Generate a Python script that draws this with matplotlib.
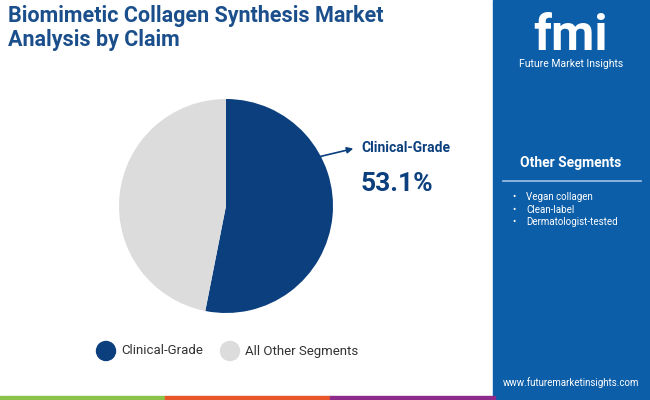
import matplotlib.pyplot as plt
from matplotlib.patches import Rectangle, FancyArrowPatch, Ellipse

labels = ["Clinical-Grade", "All Other Segments"]
shares = [53.1, 46.9]
other_segments = ["Vegan collagen", "Clean-label", "Dermatologist-tested"]

NAVY = "#0b3f7e"
GREY = "#dcdcdc"
PANEL = "#0d5ea8"
W, H = 650, 400

plt.rcParams["font.family"] = "Roboto"
fig = plt.figure(figsize=(6.5, 4), dpi=100)
fig.patch.set_facecolor("white")


def px(x, y):
    return x / W, 1 - y / H


# right panel
fig.patches.append(Rectangle(px(493, 400), 157 / W, 1, transform=fig.transFigure,
                             color=PANEL, zorder=0))
# bottom strip
for x0, c in [(0, "#8bc34a"), (165, "#e8562a"), (330, "#8e2a8b")]:
    fig.patches.append(Rectangle(px(x0, 400), 165 / W, 4 / H, transform=fig.transFigure,
                                 color=c, zorder=1))

fig.text(*px(8, 28), "Biomimetic Collagen Synthesis Market\nAnalysis by Claim",
         fontsize=15.5, fontweight="bold", color="#1b4f8c",
         va="center", linespacing=1.1)

# logo
fig.text(*px(571, 36), "fmi", fontsize=36, fontweight="bold", color="white",
         ha="center", va="center")
fig.text(*px(571, 64), "Future Market Insights", fontsize=7.5, color="white",
         ha="center", va="center")

fig.text(*px(571, 163), "Other Segments", fontsize=10, fontweight="bold",
         color="white", ha="center", va="center")
fig.lines.append(plt.Line2D([503 / W, 641 / W], [1 - 181 / H] * 2,
                            transform=fig.transFigure, color="#9fc3e6", lw=1.2))
for i, s in enumerate(other_segments):
    fig.text(*px(512, 197 + i * 12.5), "•", fontsize=7, color="white", va="center")
    fig.text(*px(526, 197 + i * 12.5), s, fontsize=7, color="white", va="center")
fig.text(*px(571, 383), "www.futuremarketinsights.com", fontsize=7, color="white",
         ha="center", va="center")

# pie
r = 107
ax = fig.add_axes([(226 - r) / W, 1 - (206 + r) / H, 2 * r / W, 2 * r / H])
ax.pie(shares, colors=[NAVY, GREY], startangle=90, counterclock=False,
       wedgeprops=dict(linewidth=0))
ax.set_xlim(-1, 1)
ax.set_ylim(-1, 1)
ax.set_aspect("equal")

fig.patches.append(FancyArrowPatch(px(318, 157), px(356, 148), transform=fig.transFigure,
                                   arrowstyle="-|>", mutation_scale=9, color=NAVY, lw=1.2))
fig.text(*px(361, 148), labels[0], fontsize=10, fontweight="bold", color=NAVY, va="center")
fig.text(*px(361, 184), f"{shares[0]}%", fontsize=19, fontweight="bold", color=NAVY, va="center")

# legend
for x0, c, lab in [(106, NAVY, labels[0]), (230, GREY, labels[1])]:
    fig.patches.append(Ellipse(px(x0, 351), 19 / W, 19 / H, transform=fig.transFigure, color=c))
    fig.text(*px(x0 + 15, 351), lab, fontsize=9.5, color="#333333", va="center")

fig.savefig("out.png", dpi=100)
